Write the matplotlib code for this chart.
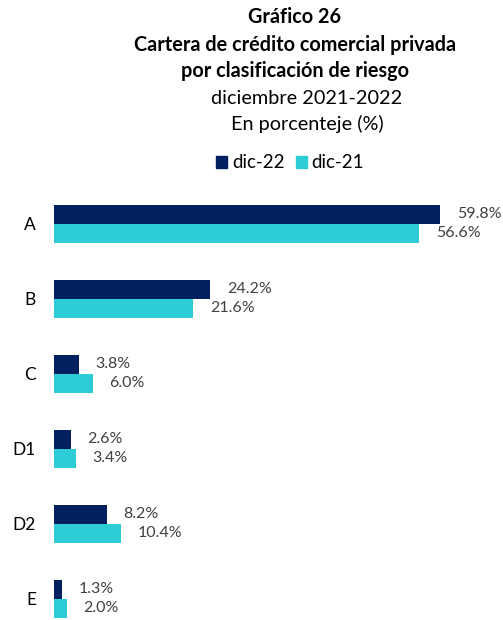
import matplotlib.pyplot as plt
from matplotlib.patches import Patch

categorias = ["A", "B", "C", "D1", "D2", "E"]
dic22 = [59.8, 24.2, 3.8, 2.6, 8.2, 1.3]
dic21 = [56.6, 21.6, 6.0, 3.4, 10.4, 2.0]

azul = "#002060"
celeste = "#2ECCD6"
plt.rcParams["font.family"] = ["Lato", "DejaVu Sans"]

fig = plt.figure(figsize=(5.03, 6.2), dpi=100)
ax = fig.add_axes([54 / 503, 0 / 620, 436 / 503, 430 / 620])

pos = list(range(len(categorias)))
h = 0.253
ax.barh([p - h / 2 for p in pos], dic22, height=h, color=azul, label="dic-22")
ax.barh([p + h / 2 for p in pos], dic21, height=h, color=celeste, label="dic-21")

for p, v in zip(pos, dic22):
    ax.text(v + 2.6, p - h / 2, f"{v:.1f}%", va="center", ha="left",
            fontsize=11.5, color="#404040", clip_on=False)
for p, v in zip(pos, dic21):
    ax.text(v + 2.6, p + h / 2, f"{v:.1f}%", va="center", ha="left",
            fontsize=11.5, color="#404040", clip_on=False)

ax.set_xlim(0, 436 / 6.455)
ax.set_ylim(5.28, -0.45)
ax.set_yticks(pos)
ax.set_yticklabels(categorias, fontsize=12.5, color="black")
ax.tick_params(axis="y", length=0, pad=13)
ax.set_xticks([])
for s in ax.spines.values():
    s.set_visible(False)

fs = 14.3
cb = 295 / 503
cn = 307 / 503
fig.text(cb, 1 - 17 / 620, "Gráfico 26", ha="center", va="center",
         fontsize=fs, fontweight="bold")
fig.text(cb, 1 - 45 / 620, "Cartera de crédito comercial privada", ha="center",
         va="center", fontsize=fs, fontweight="bold")
fig.text(cb, 1 - 71 / 620, "por clasificación de riesgo", ha="center",
         va="center", fontsize=fs, fontweight="bold")
fig.text(cn, 1 - 98 / 620, "diciembre 2021-2022", ha="center", va="center",
         fontsize=fs)
fig.text(cn, 1 - 124 / 620, "En porcenteje (%)", ha="center", va="center",
         fontsize=fs)

handles = [Patch(color=azul), Patch(color=celeste)]
fig.legend(handles, ["dic-22", "dic-21"], loc="center",
           bbox_to_anchor=(290 / 503, 1 - 163 / 620), ncol=2, frameon=False,
           fontsize=13.5, handlelength=0.6, handleheight=0.6,
           handletextpad=0.25, columnspacing=0.6)

fig.savefig("out.png", dpi=100)
